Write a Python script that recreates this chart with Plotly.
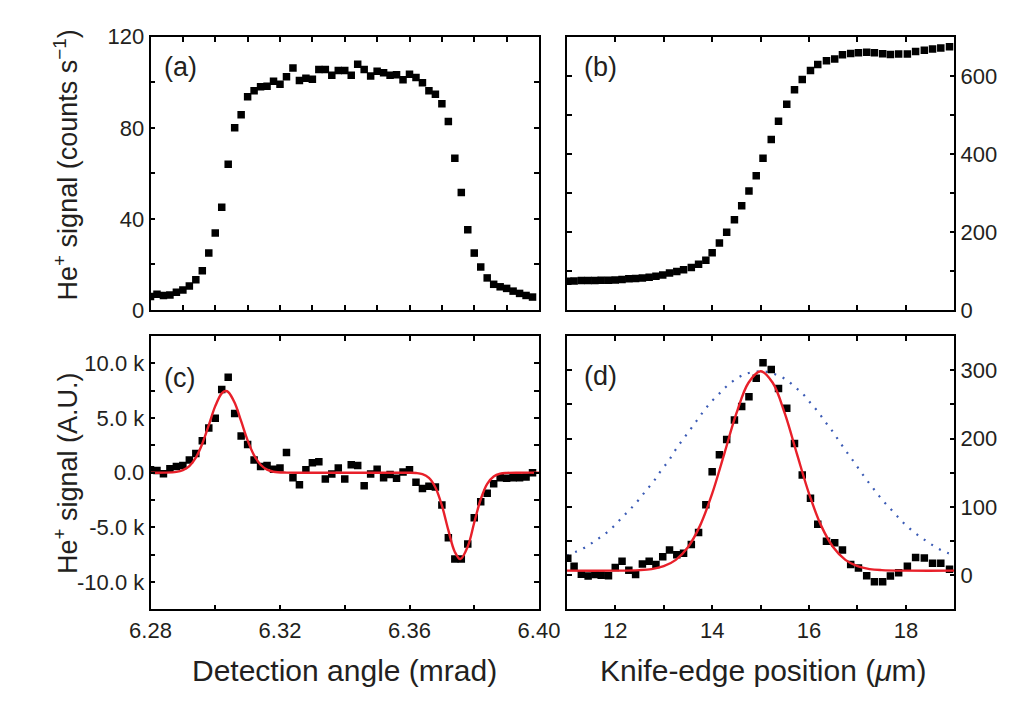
import plotly.graph_objects as go

# ---------------- data ----------------
# (a) and (c): detection angle scan (mrad)
angle = [6.280, 6.282, 6.284, 6.286, 6.288, 6.290, 6.292, 6.294, 6.296, 6.298,
         6.300, 6.302, 6.304, 6.306, 6.308, 6.310, 6.312, 6.314, 6.316, 6.318,
         6.320, 6.322, 6.324, 6.326, 6.328, 6.330, 6.332, 6.334, 6.336, 6.338,
         6.340, 6.342, 6.344, 6.346, 6.348, 6.350, 6.352, 6.354, 6.356, 6.358,
         6.360, 6.362, 6.364, 6.366, 6.368, 6.370, 6.372, 6.374, 6.376, 6.378,
         6.380, 6.382, 6.384, 6.386, 6.388, 6.390, 6.392, 6.394, 6.396, 6.398]

signal_a = [5.9, 6.9, 6.4, 6.6, 7.8, 8.8, 10.5, 13.3, 17.2, 25.0,
            33.8, 45.1, 64.0, 80.1, 85.8, 93.7, 96.3, 98.1, 98.3, 100.5,
            99.2, 102.5, 106.3, 100.8, 101.8, 101.4, 105.6, 105.6, 103.1, 105.2,
            105.2, 103.1, 107.9, 105.6, 102.8, 104.9, 104.2, 103.1, 103.3, 101.1,
            103.5, 102.1, 99.8, 96.3, 94.8, 90.6, 82.8, 66.7, 51.6, 35.3,
            25.0, 18.9, 14.1, 11.3, 10.2, 9.5, 8.3, 7.3, 6.4, 5.7]

# (c) values in thousands (k)
signal_c = [0.28, 0.19, -0.10, 0.37, 0.57, 0.66, 1.16, 1.75, 2.92, 4.10,
            4.98, 7.62, 8.74, 5.42, 3.36, 2.57, 1.16, 0.57, 0.66, 0.31,
            0.43, 1.84, -0.46, -1.10, 0.28, 0.90, 1.01, -0.57, -0.13, 0.43,
            -0.57, 0.72, 0.66, -1.19, -0.13, 0.31, -0.46, -0.16, -0.51, 0.07,
            0.28, -0.87, -1.45, -1.25, -1.31, -2.95, -5.95, -7.89, -7.89, -6.53,
            -4.13, -2.66, -1.89, -1.01, -0.46, -0.51, -0.46, -0.46, -0.40, -0.01]

fit_c_x = [6.280, 6.284, 6.288, 6.290, 6.292, 6.294, 6.296, 6.298, 6.300, 6.302,
           6.3032, 6.304, 6.306, 6.308, 6.310, 6.312, 6.314, 6.316, 6.318, 6.322,
           6.330, 6.340, 6.350, 6.356, 6.360, 6.362, 6.364, 6.366, 6.368, 6.370,
           6.372, 6.374, 6.3757, 6.378, 6.380, 6.382, 6.384, 6.386, 6.388, 6.390,
           6.394, 6.400]
fit_c_y = [0.0, 0.005, 0.07, 0.23, 0.61, 1.38, 2.65, 4.35, 6.09, 7.26,
           7.47, 7.38, 6.39, 4.71, 2.96, 1.59, 0.73, 0.28, 0.09, 0.006,
           0.0, 0.0, 0.0, 0.0, -0.005, -0.03, -0.13, -0.48, -1.35, -3.00,
           -5.26, -7.25, -7.90, -6.75, -4.56, -2.43, -1.02, -0.34, -0.09, -0.02,
           0.0, 0.0]

# (b) and (d): knife-edge scan (um)
position = [11.02, 11.15, 11.30, 11.44, 11.58, 11.71, 11.86, 12.00, 12.14, 12.28,
            12.42, 12.56, 12.70, 12.84, 12.98, 13.12, 13.27, 13.41, 13.57, 13.72,
            13.87, 14.00, 14.15, 14.30, 14.46, 14.61, 14.76, 14.91, 15.05, 15.22,
            15.37, 15.54, 15.70, 15.86, 16.03, 16.18, 16.36, 16.53, 16.69, 16.86,
            17.02, 17.19, 17.35, 17.52, 17.68, 17.85, 18.03, 18.20, 18.38, 18.55,
            18.72, 18.90]

signal_b = [73.5, 74.5, 75.5, 75.8, 75.8, 76.2, 76.6, 77.2, 78.5, 80.0,
            81.0, 81.8, 84.0, 86.5, 89.8, 94.7, 98.8, 103.0, 108.7, 117.0,
            127.7, 146.5, 171.8, 199.3, 231.5, 266.9, 304.8, 344.3, 388.8, 436.6,
            483.5, 527.2, 564.3, 590.6, 613.7, 629.3, 638.4, 643.3, 654.0, 657.3,
            659.0, 660.6, 659.0, 656.5, 654.8, 655.7, 655.7, 662.3, 665.6, 668.9,
            671.3, 674.6]

signal_d = [24.6, 13.2, 1.4, -1.4, 0.9, 0.0, -0.9, 11.3, 20.3, 7.1,
            0.9, 16.5, 20.3, 15.6, 26.9, 36.9, 29.8, 32.1, 44.8, 62.4,
            103.0, 151.3, 176.3, 198.6, 227.0, 246.8, 261.0, 288.4, 311.1, 301.1,
            273.2, 244.4, 192.9, 146.6, 112.5, 74.7, 49.6, 47.3, 36.9, 15.6,
            10.4, -0.9, -9.5, -9.5, -1.4, 3.7, 13.2, 26.0, 25.0, 17.5,
            17.5, 8.5]

fit_d_x = [11.0, 12.0, 12.5, 12.75, 13.0, 13.25, 13.5, 13.75, 14.0, 14.25,
           14.5, 14.75, 15.0, 15.25, 15.5, 15.75, 16.0, 16.25, 16.5, 16.75,
           17.0, 17.25, 17.5, 18.0, 19.0]
fit_d_y = [6.6, 6.65, 7.4, 8.9, 13.1, 22.4, 40.9, 72.5, 119.3, 177.5,
           236.7, 281.7, 298.6, 281.7, 236.7, 177.5, 119.3, 72.5, 40.9, 22.4,
           13.1, 8.9, 7.4, 6.65, 6.6]

beam_x = [11.00, 11.18, 11.40, 11.60, 11.79, 11.98, 12.15, 12.32, 12.48, 12.64,
          12.80, 12.94, 13.10, 13.23, 13.37, 13.52, 13.67, 13.82, 13.97, 14.14,
          14.30, 14.51, 14.71, 14.91, 15.10, 15.30, 15.51, 15.70, 15.88, 16.03,
          16.19, 16.34, 16.49, 16.63, 16.77, 16.92, 17.06, 17.21, 17.36, 17.52,
          17.69, 17.85, 17.98, 18.17, 18.36, 18.56, 18.76, 18.97]
beam_y = [28.4, 34.0, 41.6, 51.1, 60.4, 72.3, 85.1, 97.3, 110.1, 124.3,
          138.0, 152.6, 167.4, 182.0, 196.2, 210.4, 225.0, 239.7, 252.9, 265.2,
          276.6, 288.0, 295.0, 297.9, 297.9, 294.0, 287.0, 276.0, 264.7, 252.0,
          238.7, 224.0, 210.0, 195.2, 181.0, 166.4, 152.2, 137.6, 123.8, 109.6,
          96.5, 84.1, 74.6, 62.8, 52.9, 43.4, 35.5, 29.8]

# tick labels (labelled major ticks; unlabelled ones are minor ticks)
ticks_a_y = [0, 40, 80, 120]
labels_a_y = ["0", "40", "80", "120"]
ticks_b_y = [0, 200, 400, 600]
labels_b_y = ["0", "200", "400", "600"]
ticks_c_x = [6.28, 6.32, 6.36, 6.40]
labels_c_x = ["6.28", "6.32", "6.36", "6.40"]
ticks_c_y = [-10, -5, 0, 5, 10]
labels_c_y = ["-10.0 k", "-5.0 k", "0.0", "5.0 k", "10.0 k"]
ticks_d_x = [12, 14, 16, 18]
labels_d_x = ["12", "14", "16", "18"]
ticks_d_y = [0, 100, 200, 300]
labels_d_y = ["0", "100", "200", "300"]

# ---------------- figure ----------------
FONT = "Arial, 'Liberation Sans', Helvetica, sans-serif"
TXT = "#231f20"
W, H = 1031, 704

XA = [135 / W, 540 / W]
XB = [569 / W, 973 / W]
YT = [1 - 309 / H, 1 - 25.7 / H]
YB = [1 - 619.3 / H, 1 - 336 / H]

sq = dict(symbol="square", size=7.5, color="black", line=dict(width=0))
red = dict(color="#e8202a", width=2.4)

fig = go.Figure()
fig.add_trace(go.Scatter(x=angle, y=signal_a, mode="markers", marker=sq,
                         xaxis="x", yaxis="y"))
fig.add_trace(go.Scatter(x=position, y=signal_b, mode="markers", marker=sq,
                         xaxis="x2", yaxis="y2"))
fig.add_trace(go.Scatter(x=angle, y=signal_c, mode="markers", marker=sq,
                         xaxis="x3", yaxis="y3"))
fig.add_trace(go.Scatter(x=fit_c_x, y=fit_c_y, mode="lines", line=red,
                         line_shape="spline", xaxis="x3", yaxis="y3"))
fig.add_trace(go.Scatter(x=beam_x, y=beam_y, mode="lines",
                         line=dict(color="#3b5bb5", width=2.2, dash="2px,7px"),
                         line_shape="spline", xaxis="x4", yaxis="y4"))
fig.add_trace(go.Scatter(x=position, y=signal_d, mode="markers", marker=sq,
                         xaxis="x4", yaxis="y4"))
fig.add_trace(go.Scatter(x=fit_d_x, y=fit_d_y, mode="lines", line=red,
                         line_shape="spline", xaxis="x4", yaxis="y4"))

common = dict(showline=True, linecolor="black", linewidth=1.6, mirror="allticks",
              ticks="inside", ticklen=5, tickwidth=1.5, tickcolor="black",
              showgrid=False, zeroline=False, tickmode="array",
              tickfont=dict(size=22, family=FONT, color=TXT))

def minor(step):
    return dict(dtick=step, ticks="inside", ticklen=5, tickwidth=1.5,
                tickcolor="black", showgrid=False)

fig.update_layout(
    width=W, height=H,
    margin=dict(l=0, r=0, t=0, b=0),
    paper_bgcolor="white", plot_bgcolor="white",
    showlegend=False,
    font=dict(family=FONT, color=TXT),
    xaxis=dict(domain=XA, anchor="y", range=[6.28, 6.40], tickvals=[6.30, 6.34, 6.38],
               showticklabels=False, minor=minor(0.01), **common),
    yaxis=dict(domain=YT, anchor="x", range=[0, 120],
               tickvals=ticks_a_y, ticktext=labels_a_y, minor=minor(20), **common),
    xaxis2=dict(domain=XB, anchor="y2", range=[11, 19], tickvals=[12, 14, 16, 18],
                showticklabels=False, minor=minor(1), **common),
    yaxis2=dict(domain=YT, anchor="x2", side="right", range=[0, 700],
                tickvals=ticks_b_y, ticktext=labels_b_y, minor=minor(100), **common),
    xaxis3=dict(domain=XA, anchor="y3", range=[6.28, 6.40],
                tickvals=ticks_c_x, ticktext=labels_c_x, minor=minor(0.02), **common),
    yaxis3=dict(domain=YB, anchor="x3", range=[-12.5, 12.5],
                tickvals=ticks_c_y, ticktext=labels_c_y, minor=minor(2.5), **common),
    xaxis4=dict(domain=XB, anchor="y4", range=[11, 19],
                tickvals=ticks_d_x, ticktext=labels_d_x, minor=minor(1), **common),
    yaxis4=dict(domain=YB, anchor="x4", side="right", range=[-50, 350],
                tickvals=ticks_d_y, ticktext=labels_d_y, minor=minor(50), **common),
)

def ann(text, x, y, size, angle=0, xanchor="left"):
    fig.add_annotation(text=text, x=x, y=y, xref="paper", yref="paper",
                       xanchor=xanchor, yanchor="middle", showarrow=False,
                       textangle=angle, font=dict(size=size, family=FONT, color=TXT))

ann("(a)", 147 / W, 1 - 57 / H, 27)
ann("(b)", 585 / W, 1 - 57 / H, 27)
ann("(c)", 147 / W, 1 - 379 / H, 27)
ann("(d)", 585 / W, 1 - 377 / H, 27)
ann("He<sup>+</sup> signal (counts s<sup>\u22121</sup>)", 47 / W, 1 - 159 / H, 27,
    angle=-90, xanchor="center")
ann("He<sup>+</sup> signal (A.U.)", 47 / W, 1 - 478 / H, 27, angle=-90, xanchor="center")
ann("Detection angle (mrad)", 337 / W, 1 - 683 / H, 30, xanchor="center")
ann("Knife-edge position (<i>\u03bc</i>m)", 774 / W, 1 - 683 / H, 30, xanchor="center")

fig.write_html("out.html",
               config={"displayModeBar": False},
               post_script="document.body.style.margin='0';"
                           "document.body.style.overflow='hidden';")
